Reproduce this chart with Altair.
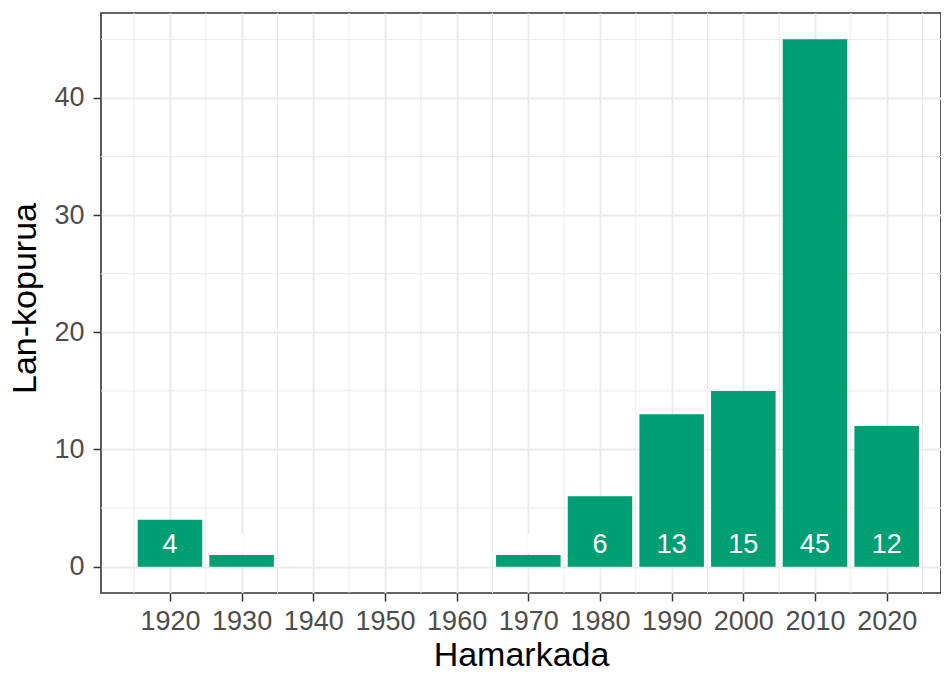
import altair as alt
import pandas as pd

# ---- data ----
decades = [1920, 1930, 1970, 1980, 1990, 2000, 2010, 2020]
counts = [4, 1, 1, 6, 13, 15, 45, 12]
x_ticks = [1920, 1930, 1940, 1950, 1960, 1970, 1980, 1990, 2000, 2010, 2020]
y_ticks = [0, 10, 20, 30, 40]
minor_x = [1915, 1925, 1935, 1945, 1955, 1965, 1975, 1985, 1995, 2005, 2015, 2025]
minor_y = [5, 15, 25, 35, 45]

df = pd.DataFrame({"decade": decades, "n": counts})
HALF_W = 4.5  # bar width 0.9 of the 10-year bin
LABEL_Y = 1.15

FONT = "Liberation Sans"

PLOT_W = 840
PLOT_H = 580

xscale = alt.Scale(domain=[1910.38, 2027.58], nice=False, zero=False)
yscale = alt.Scale(domain=[-2.25, 47.25], nice=False, zero=False)

xaxis = alt.Axis(
    values=x_ticks, format="d", grid=True, gridColor="#EBEBEB", gridWidth=2,
    domain=False, ticks=True, tickColor="#333333", tickWidth=1.5, tickSize=8,
    labelFont=FONT, labelFontSize=27, labelColor="#4D4D4D", labelPadding=7,
    labelFlush=False, labelOverlap=False,
    title="Hamarkada", titleFont=FONT, titleFontSize=34, titleColor="black",
    titleFontWeight="normal", titleY=72, titleBaseline="alphabetic",
)
yaxis = alt.Axis(
    values=y_ticks, format="d", grid=True, gridColor="#EBEBEB", gridWidth=2,
    domain=False, ticks=True, tickColor="#333333", tickWidth=1.5, tickSize=8,
    labelFont=FONT, labelFontSize=27, labelColor="#4D4D4D", labelPadding=9,
    labelFlush=False, labelOverlap=False,
    title="Lan-kopurua", titleFont=FONT, titleFontSize=34, titleColor="black",
    titleFontWeight="normal", titleX=-66, titleY=285, titleAngle=270,
    titleBaseline="alphabetic", titleAlign="center",
)

minor_x_layer = alt.Chart(pd.DataFrame({"v": minor_x})).mark_rule(
    color="#EBEBEB", strokeWidth=1
).encode(x=alt.X("v:Q", scale=xscale, axis=xaxis))

minor_y_layer = alt.Chart(pd.DataFrame({"v": minor_y})).mark_rule(
    color="#EBEBEB", strokeWidth=1
).encode(y=alt.Y("v:Q", scale=yscale, axis=yaxis))

bars = alt.Chart(df).transform_calculate(
    x0=f"datum.decade - {HALF_W}", x1=f"datum.decade + {HALF_W}"
).mark_bar(color="#009E73").encode(
    x=alt.X("x0:Q", scale=xscale, axis=xaxis),
    x2="x1:Q",
    y=alt.Y("n:Q", scale=yscale, axis=yaxis),
    y2=alt.datum(0),
)

labels = alt.Chart(df).mark_text(
    color="white", font=FONT, fontSize=27, baseline="alphabetic", align="center"
).encode(
    x=alt.X("decade:Q", scale=xscale, axis=xaxis),
    y=alt.Y(datum=LABEL_Y, scale=yscale, axis=yaxis),
    text="n:Q",
)

chart = alt.layer(minor_x_layer, minor_y_layer, bars, labels).properties(
    width=PLOT_W, height=PLOT_H,
    autosize=alt.AutoSizeParams(type="none"),
    padding={"left": 93, "top": 5, "right": 0, "bottom": 73},
    background="white",
).configure_view(stroke="#333333", strokeWidth=1.6)

chart.save("out.html", embed_options={"renderer": "svg", "actions": False})
